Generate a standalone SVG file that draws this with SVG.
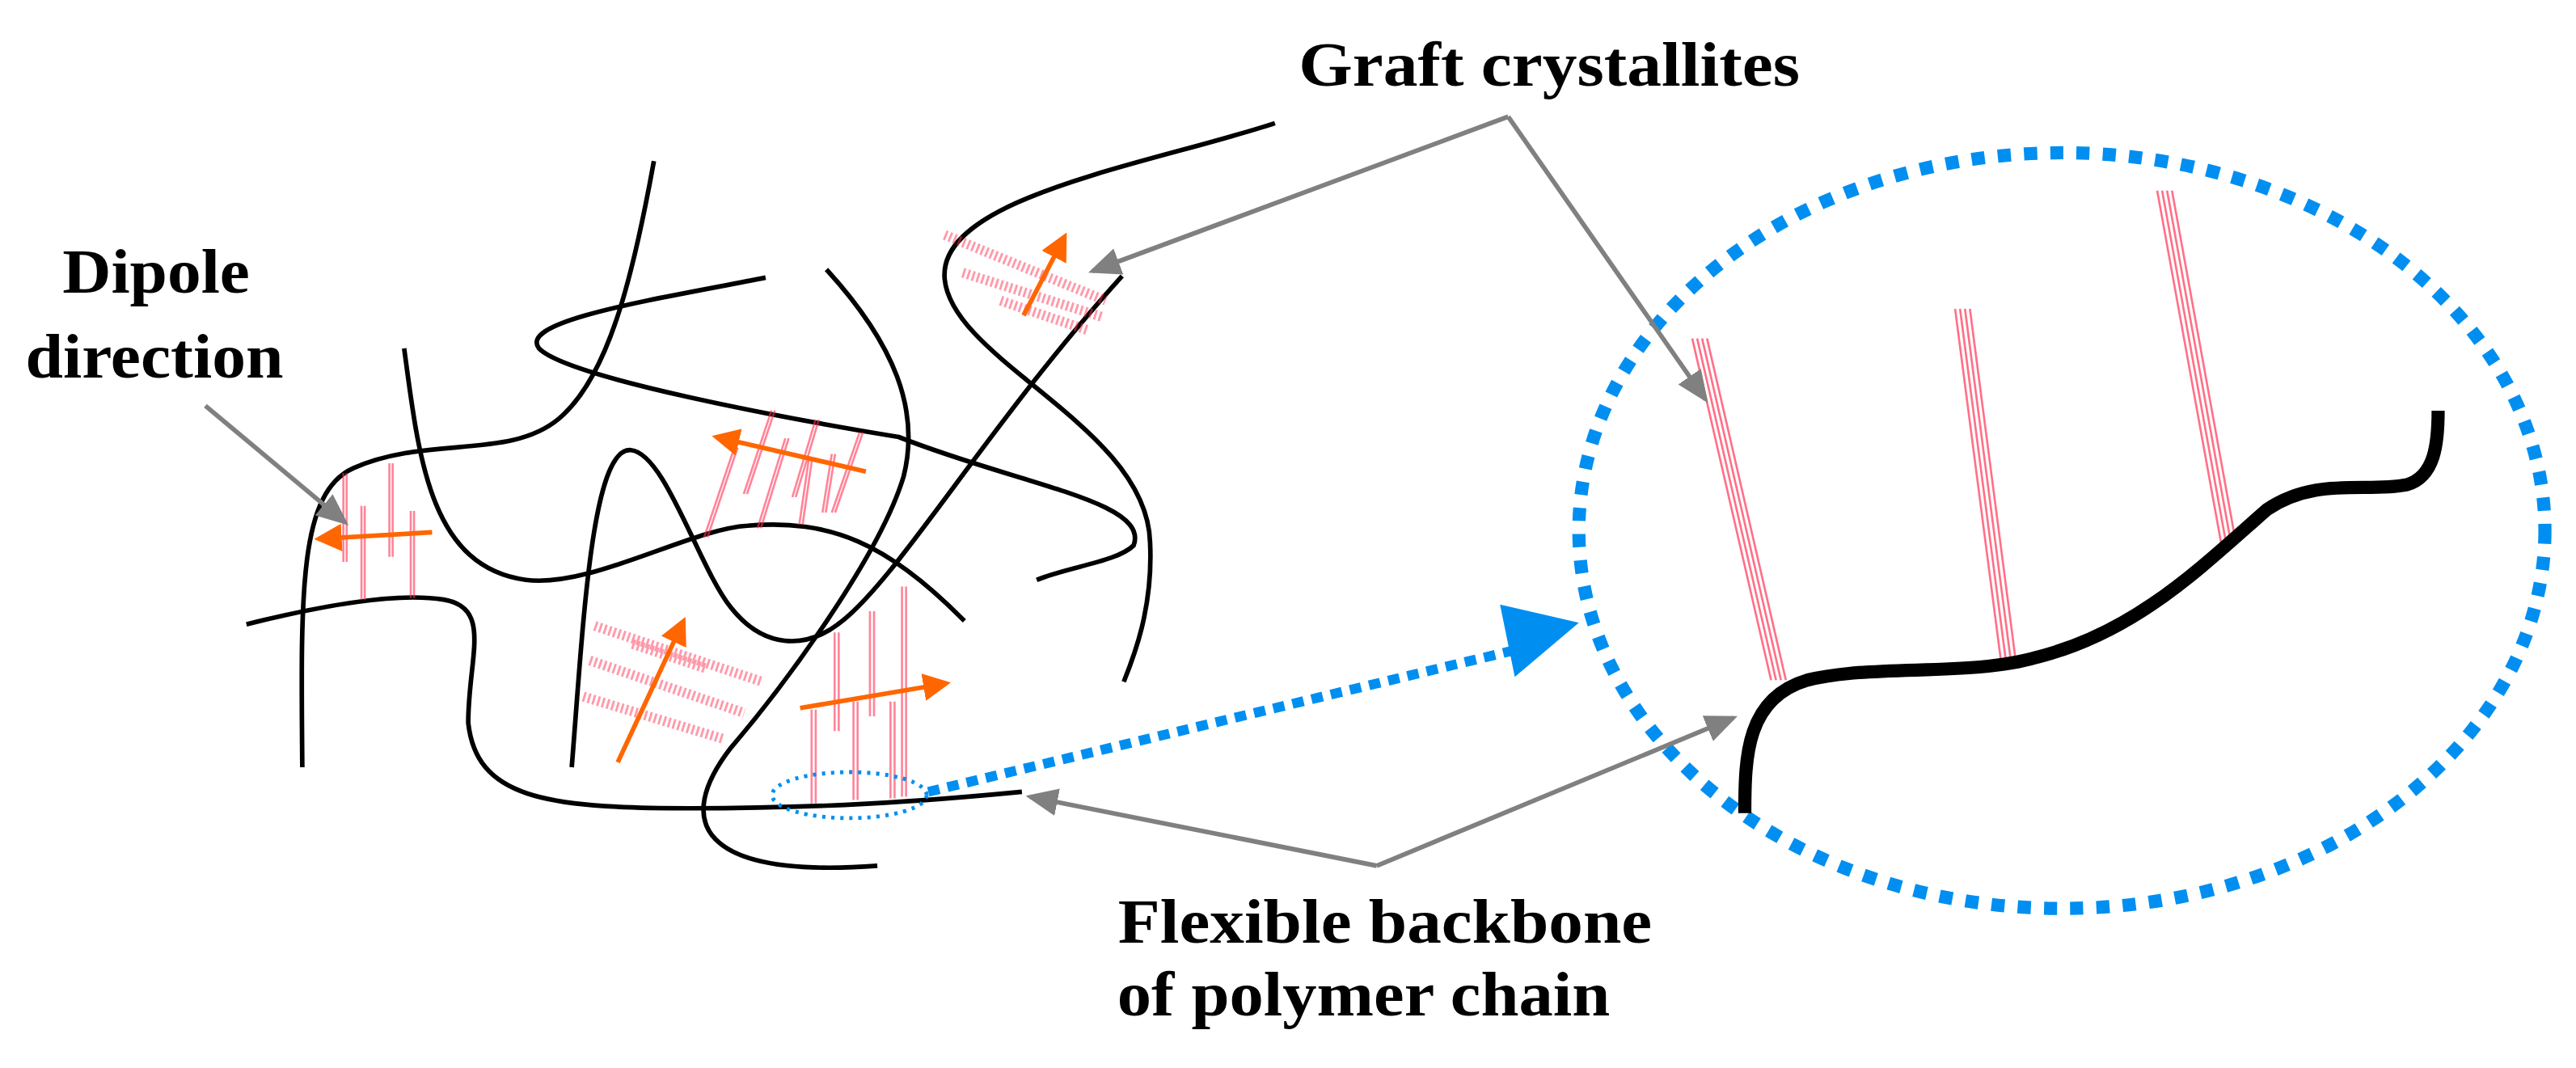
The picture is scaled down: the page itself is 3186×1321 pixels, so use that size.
<svg xmlns="http://www.w3.org/2000/svg" width="3186" height="1321" viewBox="0 0 3186 1321">
<style>
.chain{fill:none;stroke:#000;stroke-width:2.8;stroke-linecap:butt}
.h{stroke:#f35;stroke-width:1.3;opacity:.6;fill:none}
.hd{stroke:#f35;stroke-width:6;stroke-dasharray:1.4 1.6;opacity:.5;fill:none}
.dip{stroke:#ff6600;stroke-width:2.8;fill:none}
.ptr{stroke:#808080;stroke-width:2.8;fill:none}
.lbl{font-family:"Liberation Serif",serif;font-weight:bold;font-size:38px;fill:#000}
.blue{stroke:#008ff0;fill:none}
</style>
<defs>
<marker id="ao" markerWidth="6" markerHeight="6" refX="5" refY="3" orient="auto" markerUnits="strokeWidth"><path d="M0,0 L6,3 L0,6 Z" fill="#ff6600"/></marker>
<marker id="ag" markerWidth="7" markerHeight="6" refX="6" refY="3" orient="auto" markerUnits="strokeWidth"><path d="M0,0 L7,3 L0,6 Z" fill="#808080"/></marker>
</defs>
<rect width="3186" height="1321" fill="#fff"/>
<g transform="scale(2.032)">
<g id="chains">
<path class="chain" d="M398,98 C385,170 370,230 340,255 C310,280 260,265 215,285 C182,300 183,360 184,467"/>
<path class="chain" d="M466,169 C400,182 315,195 328,212 C345,230 480,255 547,266 C620,295 700,305 690,332 C680,342 650,345 631,353"/>
<path class="chain" d="M246,212 C255,280 262,345 320,353 C360,358 420,322 455,320 C505,316 540,330 587,378"/>
<path class="chain" d="M348,467 C355,380 360,272 384,274 C405,276 425,345 445,370 C465,395 490,395 510,380 C545,355 600,260 683,168"/>
<path class="chain" d="M503,164 C545,210 560,250 550,290 C535,340 475,420 445,455 C410,500 425,535 534,527"/>
<path class="chain" d="M776,75 C700,100 570,120 575,170 C580,220 698,260 700,330 C702,370 690,400 684,415"/>
<path class="chain" d="M150,380 C190,370 240,360 270,365 C300,370 285,400 285,440 C290,485 330,492 420,492 C500,492 560,488 622,482"/>
</g>
<g id="hatchA">
<path class="h" d="M209,288 L209,342 M211,288 L211,342 M220,308 L220,365 M222,308 L222,365 M237,282 L237,339 M239,282 L239,339 M250,311 L250,364 M252,311 L252,364"/>
</g>
<g id="hatchB">
<path class="h" d="M469.6,249.8 L452.7,300.7 M471.6,249.8 L454.7,300.7 M447,272.4 L428.6,327.1 M449,272.4 L430.6,327.1 M478,266.8 L461.1,321.5 M480,266.8 L463.1,321.5 M496.4,255.5 L482.3,302.6 M498.4,255.5 L484.3,302.6 M492.2,280 L486.5,319.4 M494.2,280 L488.5,319.4 M506.3,276.3 L500.6,312 M508.3,276.3 L502.6,312 M523.2,263.1 L506.3,312 M525.2,263.1 L508.3,312"/>
</g>
<g id="hatchC">
<path class="hd" d="M362,381 L464,415 M359,402 L453,434 M355,424 L441,450 M385,392 L430,407"/>
</g>
<g id="hatchD">
<path class="h" d="M494,432 L494,489 M496.5,432 L496.5,489 M508,385 L508,445 M510.5,385 L510.5,445 M519.5,427 L519.5,487 M522,427 L522,487 M529.5,372 L529.5,436 M532,372 L532,436 M542,427 L542,486 M544.5,427 L544.5,486 M549,357 L549,485 M551.5,357 L551.5,485"/>
</g>
<g id="hatchE">
<path class="hd" d="M575,143 L673,183 M586,166 L671,193 M609,183 L662,201"/>
</g>
<g id="dipoles">
<path class="dip" d="M263,324 L194,328" marker-end="url(#ao)"/>
<path class="dip" d="M527,287 L436,266" marker-end="url(#ao)"/>
<path class="dip" d="M376,464 L416,378" marker-end="url(#ao)"/>
<path class="dip" d="M487,431 L576,416" marker-end="url(#ao)"/>
<path class="dip" d="M623,192 L648,144" marker-end="url(#ao)"/>
</g>
<g id="zoom">
<ellipse class="blue" cx="1255" cy="323" rx="294" ry="230" stroke-width="8" stroke-dasharray="8 8"/>
<g class="h" style="opacity:.7">
<path d="M1030,206 L1078,414 M1033,206 L1081,414 M1036,206 L1084,414 M1039,206 L1087,414"/>
<path d="M1190,188 L1218,403 M1193,188 L1221,403 M1196,188 L1224,403 M1199,188 L1227,403"/>
<path d="M1313,116 L1352,331 M1316,116 L1355,331 M1319,116 L1358,331 M1322,116 L1361,331"/>
</g>
<path d="M1062,495 C1062,460 1063,425 1100,414 C1140,404 1200,412 1240,400 C1300,385 1340,345 1380,310 C1410,290 1440,300 1465,295 C1482,290 1484,270 1484,250" fill="none" stroke="#000" stroke-width="8"/>
</g>
<g id="magnify">
<ellipse class="blue" cx="517" cy="484" rx="47" ry="14" stroke-width="2.4" stroke-dasharray="2 3.5"/>
<path class="blue" d="M565,482 L925,395" stroke-width="6" stroke-dasharray="7 5"/>
<path d="M913,368 L961,379 L922,412 Z" fill="#008ff0"/>
</g>
<g id="connectors">
<path class="ptr" d="M125,247 L210,318" marker-end="url(#ag)"/>
<path class="ptr" d="M918,71 L665,165" marker-end="url(#ag)"/>
<path class="ptr" d="M918,71 L1038,243" marker-end="url(#ag)"/>
<path class="ptr" d="M838,527 L627,485" marker-end="url(#ag)"/>
<path class="ptr" d="M838,527 L1055,437" marker-end="url(#ag)"/>
</g>
<g id="labels">
<text class="lbl" x="943" y="52" text-anchor="middle" textLength="305" lengthAdjust="spacingAndGlyphs">Graft crystallites</text>
<text class="lbl" x="95" y="178" text-anchor="middle" textLength="114" lengthAdjust="spacingAndGlyphs">Dipole</text>
<text class="lbl" x="94" y="230" text-anchor="middle" textLength="157" lengthAdjust="spacingAndGlyphs">direction</text>
<text class="lbl" x="843" y="574" text-anchor="middle" textLength="325" lengthAdjust="spacingAndGlyphs">Flexible backbone</text>
<text class="lbl" x="830" y="618" text-anchor="middle" textLength="300" lengthAdjust="spacingAndGlyphs">of polymer chain</text>
</g>
</g>
</svg>
